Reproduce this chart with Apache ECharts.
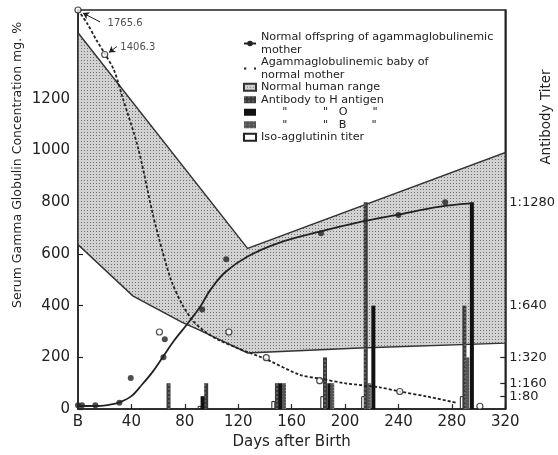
<!DOCTYPE html>
<html><head><meta charset="utf-8">
<script src="https://cdn.jsdelivr.net/npm/echarts@6/dist/echarts.min.js"></script>
<style>html,body{margin:0;padding:0;background:#fff}#c{width:558px;height:455px}</style>
</head><body><div id="c"></div>
<script>
// ---------- data ----------
const xTickValues = [0, 40, 80, 120, 160, 200, 240, 280, 320];
const yTickValues = [0, 200, 400, 600, 800, 1000, 1200];
const titerTickValues = [80, 160, 320, 640, 1280];
const titerTickLabels = ['1:80', '1:160', '1:320', '1:640', '1:1280'];

// Normal offspring of agammaglobulinemic mother (day, mg %)
const normalDots = [[0,15],[3,15],[13,15],[31,25],[39.5,120],[64,200],[65,270],[93,385],[111,579],[182,680],[240,750],[275,800]];
const normalCurve = [[0,12],[15,12],[25,18],[32,28],[40,50],[48,95],[56,145],[64,205],[72,265],[82,330],[92,400],[99,460],[110,528],[127,590],[150,642],[181,686],[210,722],[240,752],[270,782],[294,795]];

// Agammaglobulinemic baby of normal mother (plotted position; first two are off-scale, annotated)
const babyDots = [[0,1543],[20,1371],[61,298],[113,298],[141,199],[181,110],[241,68],[301,11]];
const babyLabels = ['1765.6', '1406.3'];
const babyCurve = [[0,1543],[7,1490],[14,1425],[20,1375],[27,1310],[33,1211],[45,1010],[56,754],[63,615],[70,495],[78,405],[86,342],[95,300],[105,268],[120,235],[142,190],[166,133],[181,118],[200,100],[226,84],[241,68],[262,48],[283,25]];

// Normal human range (polygon)
const rangeUpper = [[0,1455],[127,621],[320,992]];
const rangeLower = [[0,636],[41,438],[78,335],[91,305],[127,217],[211,236],[320,255]];

// Antibody titers (day, titer)
const barsH   = [[67.8,160],[96,160],[149,160],[185,320],[215.5,1280],[289.4,640]];
const barsO   = [[93.3,80],[151.6,160],[188.2,160],[221.2,640],[295,1280]];
const barsB   = [[154.3,160],[190.4,160],[217.8,160],[291.6,320]];
const barsIso = [[91.1,20],[146.3,50],[183,80],[213.6,80],[287.5,80]];

// ---------- chart ----------
const FONT = 'DejaVu Sans';
const INK = '#222';

function makeStipple(){
  const c = document.createElement('canvas'); c.width = 3; c.height = 3;
  const g = c.getContext('2d');
  g.fillStyle = '#d2d2d2'; g.fillRect(0,0,3,3);
  g.fillStyle = '#707070'; g.fillRect(0,0,1,1);
  return c;
}
const stipple = { image: makeStipple(), repeat: 'repeat' };

const nameNormal = 'Normal offspring of agammaglobulinemic\nmother';
const nameBaby = 'Agammaglobulinemic baby of\nnormal mother';
const nameRange = 'Normal human range';
const nameH = 'Antibody to H antigen';
const nameO = ' '.repeat(6)+'"'+' '.repeat(10)+'"'+' '.repeat(3)+'O'+' '.repeat(7)+'"';
const nameB = ' '.repeat(6)+'"'+' '.repeat(10)+'"'+' '.repeat(3)+'B'+' '.repeat(7)+'"';
const nameIso = 'Iso-agglutinin titer';

const chart = echarts.init(document.getElementById('c'), null, {renderer:'canvas'});
const barCommon = { type:'bar', xAxisIndex:0, yAxisIndex:1, barWidth:4, barGap:'-100%', z:2, animation:false };

chart.setOption({
  animation: false,
  backgroundColor: '#fff',
  textStyle: { fontFamily: FONT, color: INK },
  grid: { left: 78, right: 51, top: 10, bottom: 40, show: true, borderColor: INK, borderWidth: 1.5, backgroundColor: 'transparent' },
  legend: {
    orient: 'vertical', left: 238, top: 26, itemGap: 0, itemWidth: 12, itemHeight: 7,
    selectedMode: false,
    textStyle: { fontFamily: FONT, fontSize: 11.2, lineHeight: 12.5, color: INK },
    data: [
      { name: nameNormal },
      { name: nameBaby, itemStyle: { color: '#fff', borderColor: INK, borderWidth: 1.2 } },
      { name: nameRange, icon: 'rect' },
      { name: nameH, icon: 'rect' },
      { name: nameO, icon: 'rect' },
      { name: nameB, icon: 'rect' },
      { name: nameIso, icon: 'rect' }
    ]
  },
  xAxis: {
    type: 'value', min: 0, max: 320, interval: 40,
    name: 'Days after Birth', nameLocation: 'middle', nameGap: 24,
    nameTextStyle: { fontFamily: FONT, fontSize: 15, color: INK },
    axisLine: { lineStyle: { color: INK, width: 1.5 } },
    axisTick: { inside: true, length: 5, lineStyle: { color: INK, width: 1.2 } },
    axisLabel: { fontFamily: FONT, fontSize: 15, color: INK, margin: 6,
      formatter: v => v === 0 ? 'B' : String(v) },
    splitLine: { show: false }
  },
  yAxis: [{
    type: 'value', min: 0, max: 1543, position: 'left',
    axisLine: { show: true, lineStyle: { color: INK, width: 1.5 } },
    axisTick: { show: true, inside: true, length: 5, customValues: yTickValues, lineStyle: { color: INK, width: 1.2 } },
    axisLabel: { fontFamily: FONT, fontSize: 15, color: INK, margin: 8, customValues: yTickValues,
      formatter: v => String(v) },
    splitLine: { show: false }
  }, {
    type: 'value', min: 0, max: 1543 * 1.6, position: 'right',
    axisLine: { show: true, lineStyle: { color: INK, width: 1.5 } },
    axisTick: { show: true, inside: true, length: 5, customValues: titerTickValues, lineStyle: { color: INK, width: 1.2 } },
    axisLabel: { fontFamily: FONT, fontSize: 13, color: INK, margin: 4, customValues: titerTickValues,
      formatter: v => titerTickLabels[titerTickValues.indexOf(v)] || '' },
    splitLine: { show: false }
  }],
  graphic: [
    { type: 'text', x: 18, y: 165, rotation: Math.PI / 2,
      style: { text: 'Serum Gamma Globulin Concentration mg. %', font: '12.5px "DejaVu Sans"', fill: INK, align: 'center', verticalAlign: 'middle' } },
    { type: 'text', x: 546, y: 117, rotation: Math.PI / 2,
      style: { text: 'Antibody Titer', font: '13.5px "DejaVu Sans"', fill: INK, align: 'center', verticalAlign: 'middle' } }
  ],
  series: [
    {
      type: 'custom', name: nameRange, xAxisIndex: 0, yAxisIndex: 0, z: 1,
      data: [rangeUpper[0]],
      itemStyle: { color: stipple, borderColor: '#333', borderWidth: 1 },
      renderItem: (params, api) => {
        const pts = rangeUpper.concat(rangeLower.slice().reverse()).map(p => api.coord(p));
        return { type: 'polygon', shape: { points: pts },
          style: { fill: stipple, stroke: '#333', lineWidth: 1.4 } };
      }
    },
    Object.assign({}, barCommon, { name: nameIso, data: barsIso, itemStyle: { color: '#fff', borderColor: INK, borderWidth: 1 } }),
    Object.assign({}, barCommon, { name: nameH, data: barsH, itemStyle: { color: '#3a3a3a',
      decal: { symbol: 'rect', symbolSize: 0.5, dashArrayX: [2, 2], dashArrayY: [2, 2], color: 'rgba(230,230,230,0.85)' } } }),
    Object.assign({}, barCommon, { name: nameO, data: barsO, itemStyle: { color: '#111' } }),
    Object.assign({}, barCommon, { name: nameB, data: barsB, itemStyle: { color: '#555',
      decal: { symbol: 'rect', symbolSize: 0.5, dashArrayX: [3, 1], dashArrayY: [1, 2], color: 'rgba(255,255,255,0.6)' } } }),
    {
      type: 'line', name: nameNormal, data: normalCurve, smooth: 0.35, z: 3,
      symbol: 'circle', symbolSize: 6, showSymbol: false,
      itemStyle: { color: INK }, lineStyle: { color: INK, width: 1.8 }
    },
    {
      type: 'scatter', name: 'normalDots', data: normalDots, z: 4,
      symbol: 'circle', symbolSize: 6, itemStyle: { color: INK }
    },
    {
      type: 'line', name: nameBaby, data: babyCurve, smooth: 0.3, z: 3,
      symbol: 'emptyCircle', symbolSize: 6, showSymbol: false,
      itemStyle: { color: '#fff', borderColor: INK, borderWidth: 1.2 },
      lineStyle: { color: INK, width: 1.8, type: [3, 2] }
    },
    {
      type: 'scatter', name: 'babyDots', z: 4, clip: false,
      data: babyDots.map((p, i) => i < babyLabels.length ? {
        value: p,
        label: { show: true, formatter: babyLabels[i], position: 'right',
          offset: i === 0 ? [21, 13] : [7, -7], fontFamily: FONT, fontSize: 10, color: INK }
      } : p),
      symbol: 'circle', symbolSize: 6,
      itemStyle: { color: '#fff', borderColor: INK, borderWidth: 1.2 },
      markLine: {
        silent: true, animation: false, symbol: ['none', 'arrow'], symbolSize: 6,
        lineStyle: { type: 'solid', color: INK, width: 1 }, label: { show: false },
        data: [
          [{ coord: [16.5, 1497] }, { coord: [3.7, 1531] }],
          [{ coord: [29.2, 1402] }, { coord: [23.2, 1379] }]
        ]
      }
    }
  ]
});
</script>
</body></html>
